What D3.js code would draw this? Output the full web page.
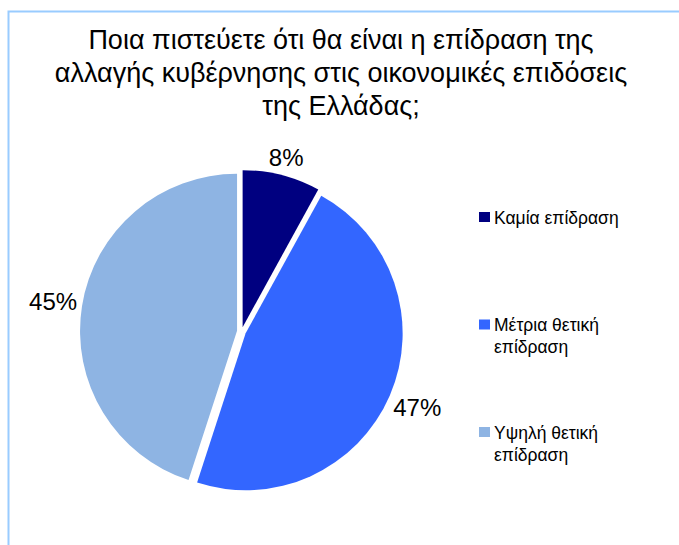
<!DOCTYPE html>
<html lang="el">
<head>
  <meta charset="UTF-8">
  <title>Επίδραση αλλαγής κυβέρνησης</title>
  <script src="https://d3js.org/d3.v7.min.js"></script>
</head>
<body style="margin:0; background:#ffffff;">
  <div id="chart"></div>
  <script>
// data
const categories = ["Καμία επίδραση", "Μέτρια θετική επίδραση", "Υψηλή θετική επίδραση"];
const values = [8, 47, 45];
const legendLines = [["Καμία επίδραση"], ["Μέτρια θετική", "επίδραση"], ["Υψηλή θετική", "επίδραση"]];
const colors = ["#000080", "#3366FF", "#8EB4E3"];
const titleLines = [
  "Ποια πιστεύετε ότι θα είναι η επίδραση της",
  "αλλαγής κυβέρνησης στις οικονομικές επιδόσεις",
  "της Ελλάδας;"
];

const width = 679, height = 545;
const font = "'Liberation Sans', Arial, sans-serif";

const svg = d3.select("#chart").append("svg")
  .attr("width", width)
  .attr("height", height)
  .style("display", "block");

// chart area border (only top + left visible in the crop)
svg.append("path")
  .attr("d", `M8.5,${height} L8.5,11.5 L${width},11.5`)
  .attr("fill", "none")
  .attr("stroke", "#99CCFF")
  .attr("stroke-width", 2);

// title
svg.append("text")
  .attr("x", 341)
  .attr("y", 49)
  .attr("text-anchor", "middle")
  .attr("font-family", font)
  .attr("font-size", 27)
  .attr("fill", "#000")
  .selectAll("tspan")
  .data(titleLines)
  .join("tspan")
  .attr("x", 341)
  .attr("dy", (d, i) => i === 0 ? 0 : 33)
  .text(d => d);

// pie
const cx = 241.5, cy = 331.5, radius = 157, explode = 4.5;
const pie = d3.pie().sort(null).value(d => d);
const arc = d3.arc().innerRadius(0).outerRadius(radius);
const arcs = pie(values);

const g = svg.append("g").attr("transform", `translate(${cx},${cy})`);

function mid(d) { return (d.startAngle + d.endAngle) / 2; }

g.selectAll("path.slice")
  .data(arcs)
  .join("path")
  .attr("class", "slice")
  .attr("d", arc)
  .attr("fill", (d, i) => colors[i])
  .attr("transform", d => {
    const a = mid(d);
    return `translate(${Math.sin(a) * explode},${-Math.cos(a) * explode})`;
  });

// percentage labels, placed just outside the slice edge
const labels = g.selectAll("text.pct")
  .data(arcs)
  .join("text")
  .attr("class", "pct")
  .attr("font-family", font)
  .attr("font-size", 24)
  .attr("fill", "#000")
  .attr("text-anchor", "middle")
  .attr("dy", "0.36em")
  .text(d => d.value + "%");

labels.each(function(d) {
  const a = mid(d);
  const sx = Math.sin(a), sy = -Math.cos(a);
  const w = this.getComputedTextLength() / 2, h = 10;
  const r = radius + explode + 4 + Math.abs(sx) * w + Math.abs(sy) * h;
  d3.select(this).attr("x", sx * r).attr("y", sy * r);
});

// legend
const legendY = d3.scalePoint().domain(categories).range([217, 432]);
const legend = svg.append("g");
const items = legend.selectAll("g")
  .data(categories)
  .join("g")
  .attr("transform", d => `translate(479,${legendY(d)})`);

items.append("rect")
  .attr("x", 0)
  .attr("y", -5)
  .attr("width", 11)
  .attr("height", 10)
  .attr("fill", (d, i) => colors[i]);

items.append("text")
  .attr("font-family", font)
  .attr("font-size", 17.5)
  .attr("fill", "#000")
  .attr("y", 6.5)
  .selectAll("tspan")
  .data((d, i) => legendLines[i])
  .join("tspan")
  .attr("x", 15)
  .attr("dy", (d, i) => i === 0 ? 0 : 22)
  .text(d => d);
  </script>
</body>
</html>
